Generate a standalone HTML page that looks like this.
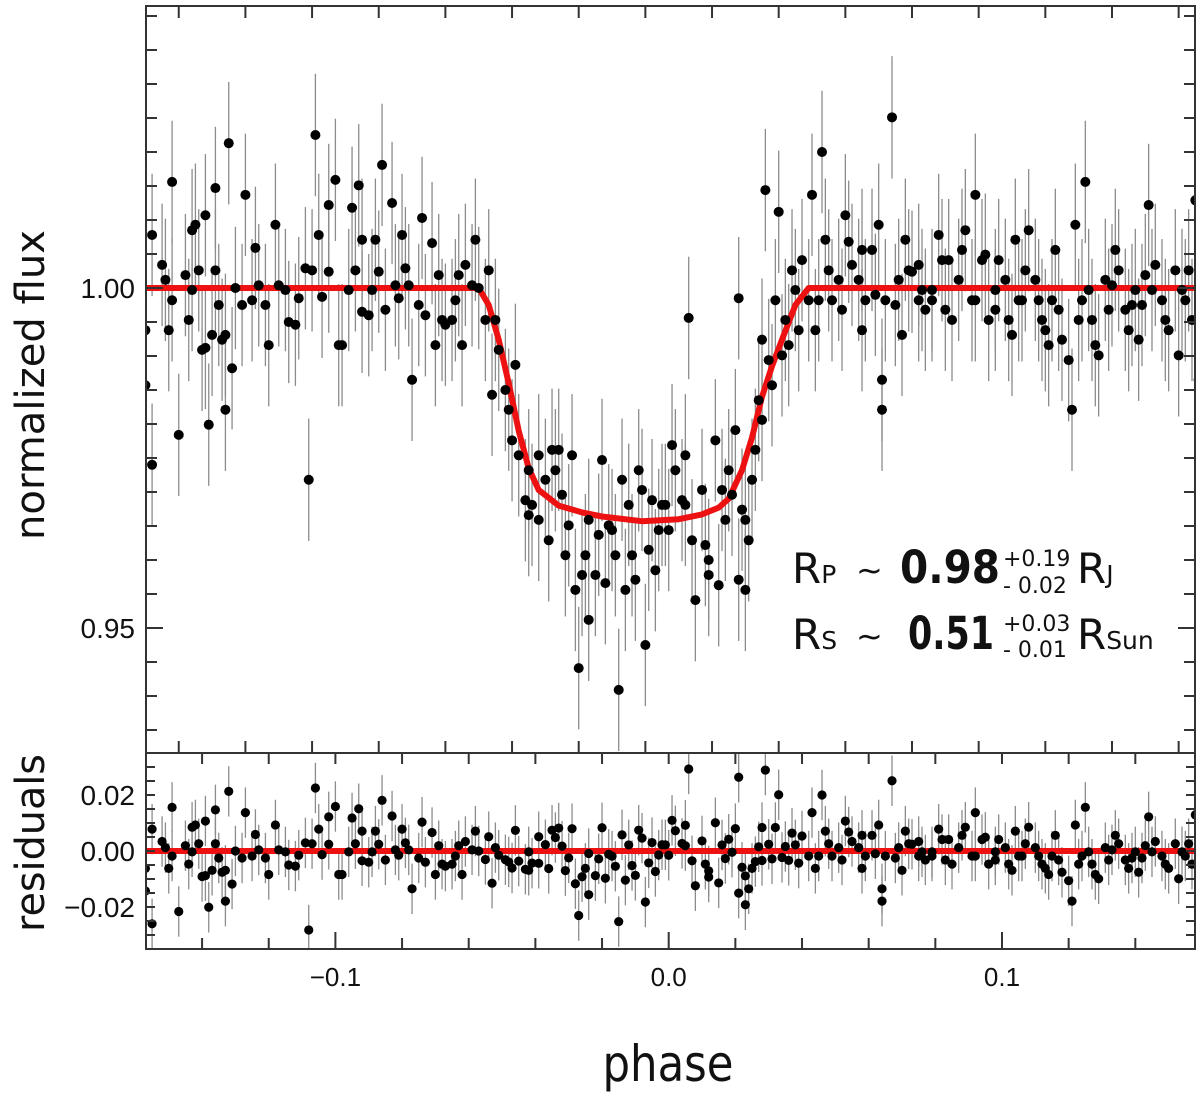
<!DOCTYPE html>
<html><head><meta charset="utf-8"><style>
html,body{margin:0;padding:0;background:#fff;}
svg{display:block;}
.tick{font-family:"Liberation Sans",sans-serif;fill:#111;}
.title{font-family:"DejaVu Sans",sans-serif;fill:#111;}
.ann{font-family:"DejaVu Sans",sans-serif;fill:#111;}
</style></head><body>
<svg id="chart" width="1200" height="1096" viewBox="0 0 1200 1096" xmlns="http://www.w3.org/2000/svg">
<defs>
<clipPath id="clipMain"><rect x="146" y="6" width="1049" height="747"/></clipPath>
<clipPath id="clipRes"><rect x="146" y="754" width="1049" height="195"/></clipPath>
</defs>
<rect x="0" y="0" width="1200" height="1096" fill="#fff"/>
<g id="mainMarks" clip-path="url(#clipMain)"></g>
<g id="resMarks" clip-path="url(#clipRes)"></g>
<g id="axes"></g>

<text class="title" x="0" y="0" font-size="40" transform="translate(44,385) rotate(-90)" text-anchor="middle" textLength="310" lengthAdjust="spacingAndGlyphs">normalized flux</text>
<text class="title" x="0" y="0" font-size="40" transform="translate(44,843) rotate(-90)" text-anchor="middle" textLength="178" lengthAdjust="spacingAndGlyphs">residuals</text>
<text class="title" x="668" y="1081" font-size="50" text-anchor="middle" textLength="131" lengthAdjust="spacingAndGlyphs">phase</text>

<g>
<text class="ann" x="792" y="583" font-size="42">R<tspan font-size="25">P</tspan></text>
<text class="ann" x="856" y="581" font-size="32">~</text>
<text class="ann" x="900" y="583" font-size="45" font-weight="bold" textLength="100" lengthAdjust="spacingAndGlyphs">0.98</text>
<text class="ann" x="1003" y="566" font-size="22">+0.19</text>
<text class="ann" x="1003" y="593" font-size="22">- 0.02</text>
<text class="ann" x="1077" y="583" font-size="42">R<tspan font-size="25">J</tspan></text>
</g>
<g>
<text class="ann" x="792" y="649" font-size="42">R<tspan font-size="25">S</tspan></text>
<text class="ann" x="856" y="647" font-size="32">~</text>
<text class="ann" x="908" y="649" font-size="45" font-weight="bold" textLength="86" lengthAdjust="spacingAndGlyphs">0.51</text>
<text class="ann" x="1003" y="631" font-size="22">+0.03</text>
<text class="ann" x="1003" y="657" font-size="22">- 0.01</text>
<text class="ann" x="1077" y="649" font-size="42">R<tspan font-size="25">Sun</tspan></text>
</g>
</svg>
<script>
var phase = [-0.157,-0.157,-0.155,-0.155,-0.152,-0.151,-0.150,-0.149,-0.149,-0.147,-0.145,-0.144,-0.143,-0.143,-0.142,-0.141,-0.140,-0.139,-0.139,-0.138,-0.137,-0.136,-0.136,-0.135,-0.134,-0.133,-0.133,-0.132,-0.131,-0.130,-0.128,-0.127,-0.125,-0.124,-0.123,-0.121,-0.120,-0.118,-0.117,-0.115,-0.114,-0.112,-0.111,-0.109,-0.108,-0.107,-0.106,-0.105,-0.104,-0.102,-0.102,-0.100,-0.099,-0.098,-0.096,-0.095,-0.094,-0.093,-0.092,-0.092,-0.090,-0.089,-0.088,-0.087,-0.086,-0.085,-0.083,-0.082,-0.081,-0.080,-0.079,-0.078,-0.077,-0.075,-0.074,-0.073,-0.071,-0.070,-0.069,-0.068,-0.067,-0.065,-0.064,-0.063,-0.062,-0.061,-0.059,-0.058,-0.057,-0.055,-0.054,-0.053,-0.052,-0.051,-0.049,-0.048,-0.047,-0.046,-0.045,-0.043,-0.042,-0.042,-0.041,-0.039,-0.039,-0.037,-0.036,-0.035,-0.034,-0.033,-0.032,-0.031,-0.030,-0.029,-0.028,-0.027,-0.026,-0.025,-0.024,-0.024,-0.022,-0.021,-0.020,-0.019,-0.018,-0.017,-0.016,-0.015,-0.014,-0.013,-0.012,-0.011,-0.010,-0.009,-0.008,-0.007,-0.006,-0.005,-0.004,-0.003,-0.002,-0.001,0.000,0.001,0.002,0.004,0.005,0.005,0.006,0.007,0.008,0.010,0.011,0.012,0.012,0.014,0.015,0.016,0.017,0.018,0.019,0.020,0.021,0.021,0.022,0.023,0.023,0.024,0.025,0.026,0.027,0.028,0.028,0.029,0.030,0.031,0.032,0.033,0.034,0.035,0.036,0.037,0.038,0.039,0.040,0.042,0.043,0.044,0.045,0.046,0.047,0.048,0.049,0.051,0.052,0.053,0.054,0.055,0.057,0.058,0.058,0.059,0.061,0.062,0.063,0.064,0.064,0.065,0.067,0.068,0.069,0.070,0.071,0.072,0.073,0.075,0.075,0.076,0.077,0.079,0.079,0.081,0.082,0.083,0.084,0.085,0.087,0.088,0.089,0.091,0.092,0.092,0.094,0.095,0.096,0.098,0.098,0.099,0.101,0.102,0.103,0.104,0.105,0.106,0.107,0.108,0.110,0.111,0.112,0.113,0.114,0.115,0.116,0.117,0.118,0.120,0.121,0.122,0.123,0.124,0.125,0.126,0.127,0.128,0.129,0.131,0.132,0.133,0.134,0.135,0.137,0.138,0.139,0.140,0.141,0.142,0.143,0.144,0.145,0.146,0.148,0.149,0.150,0.152,0.153,0.154,0.155,0.156,0.157,0.158,0.159];
var flux = [0.9938,0.9857,1.0078,0.9740,1.0034,1.0012,0.9938,1.0156,0.9982,0.9784,1.0019,0.9953,0.9997,1.0085,1.0093,1.0026,0.9909,1.0107,0.9912,0.9799,0.9931,1.0147,1.0026,0.9975,0.9924,0.9821,0.9931,1.0213,0.9882,1.0000,0.9975,1.0137,0.9982,1.0059,1.0004,0.9975,0.9916,1.0093,1.0004,0.9997,0.9950,0.9946,0.9985,1.0029,0.9718,1.0026,1.0225,1.0078,0.9987,1.0024,1.0122,1.0159,0.9916,0.9916,0.9997,1.0118,1.0026,1.0151,1.0071,0.9965,0.9960,0.9997,1.0071,1.0024,1.0181,0.9968,1.0125,1.0004,0.9985,1.0078,1.0029,1.0004,0.9865,0.9975,1.0103,0.9960,1.0066,0.9916,1.0019,0.9953,0.9946,0.9953,0.9982,1.0019,0.9916,1.0034,1.0004,1.0071,1.0000,0.9953,1.0026,0.9843,0.9953,0.9909,0.9850,0.9821,0.9776,0.9887,0.9754,0.9688,0.9666,0.9732,0.9681,0.9754,0.9659,0.9718,0.9629,0.9762,0.9732,0.9762,0.9696,0.9607,0.9651,0.9754,0.9556,0.9441,0.9578,0.9607,0.9512,0.9659,0.9578,0.9637,0.9747,0.9566,0.9651,0.9644,0.9607,0.9409,0.9718,0.9556,0.9681,0.9607,0.9571,0.9732,0.9703,0.9475,0.9615,0.9688,0.9585,0.9644,0.9681,0.9681,0.9644,0.9769,0.9732,0.9688,0.9681,0.9754,0.9956,0.9629,0.9541,0.9703,0.9622,0.9600,0.9578,0.9776,0.9563,0.9703,0.9659,0.9732,0.9696,0.9791,0.9571,0.9985,0.9674,0.9659,0.9556,0.9629,0.9718,0.9762,0.9835,0.9806,0.9924,1.0144,0.9894,0.9857,0.9982,1.0112,0.9901,0.9953,0.9916,1.0026,0.9997,0.9938,1.0041,0.9982,1.0137,0.9938,0.9982,1.0200,1.0071,1.0026,0.9982,1.0012,0.9968,1.0107,1.0068,1.0034,1.0012,1.0056,0.9938,0.9982,1.0056,0.9990,1.0093,0.9821,0.9865,0.9982,1.0251,0.9975,1.0012,0.9931,1.0071,1.0026,1.0024,0.9982,1.0034,0.9997,0.9968,0.9982,0.9997,1.0078,1.0041,0.9968,1.0041,0.9953,1.0012,1.0056,1.0085,0.9982,1.0137,0.9982,1.0041,1.0049,0.9953,0.9997,0.9968,1.0041,1.0012,0.9953,0.9931,1.0071,0.9982,0.9982,1.0026,1.0085,1.0012,0.9982,0.9953,0.9938,0.9916,0.9982,1.0056,0.9968,0.9924,0.9894,0.9821,1.0093,0.9953,0.9982,1.0156,0.9997,0.9953,0.9916,0.9901,1.0012,0.9968,1.0004,1.0056,1.0026,0.9968,0.9938,0.9975,0.9997,0.9924,0.9975,1.0019,1.0122,0.9997,1.0034,0.9982,0.9953,0.9938,1.0026,0.9901,0.9997,0.9982,1.0026,0.9953,1.0129,0.9865];
var fluxErr = 0.009;
var resErr = 0.009;
var modelPhase = [-0.17,-0.057,-0.054,-0.051,-0.048,-0.045,-0.042,-0.039,-0.033,-0.026,-0.020,-0.008,0.003,0.010,0.015,0.018,0.022,0.025,0.028,0.031,0.034,0.038,0.042,0.17];
var modelFlux = [1.0,1.0,0.9975,0.9924,0.9860,0.9790,0.9735,0.9703,0.9680,0.9670,0.9664,0.9657,0.9660,0.9667,0.9677,0.9690,0.9732,0.9780,0.9840,0.9885,0.9924,0.9975,1.0,1.0];
var xTickVals = [-0.1, 0.0, 0.1];
var xTickLabels = ["\u22120.1", "0.0", "0.1"];
var yTickVals = [1.00, 0.95];
var yTickLabels = ["1.00", "0.95"];
var rTickVals = [0.02, 0.00, -0.02];
var rTickLabels = ["0.02", "0.00", "\u22120.02"];

var NS = "http://www.w3.org/2000/svg";
var X0 = 146, X1 = 1195, MT = 6, MB = 753, RT = 754, RB = 949;
function px(p){ return 668.7 + p * 3333; }
function py(f){ return 288 - (f - 1) * 6800; }
function ry(r){ return 851 - r * 2800; }
function modelAt(p){
  for (var i = 0; i < modelPhase.length - 1; i++) {
    if (p >= modelPhase[i] && p <= modelPhase[i+1]) {
      var t = (p - modelPhase[i]) / (modelPhase[i+1] - modelPhase[i]);
      return modelFlux[i] + t * (modelFlux[i+1] - modelFlux[i]);
    }
  }
  return 1.0;
}
function mk(tag, attrs, parent){
  var e = document.createElementNS(NS, tag);
  for (var k in attrs) e.setAttribute(k, attrs[k]);
  parent.appendChild(e);
  return e;
}
var gMain = document.getElementById("mainMarks");
var gRes = document.getElementById("resMarks");
var gAx = document.getElementById("axes");
var n = Math.min(phase.length, flux.length);

for (var i = 0; i < n; i++) {
  var eb = mk("line", {x1: px(phase[i]), x2: px(phase[i]), y1: py(flux[i] - fluxErr), y2: py(flux[i] + fluxErr), stroke: "#8c8c8c", "stroke-width": 1.3}, gMain);
  
  
}
var d = "";
for (var j = 0; j < modelPhase.length; j++) d += (j ? "L" : "M") + px(modelPhase[j]).toFixed(1) + " " + py(modelFlux[j]).toFixed(1);
var ml = mk("path", {d: d, fill: "none", stroke: "#ee1111", "stroke-width": 6, "stroke-linejoin": "round"}, gMain);


for (var i = 0; i < n; i++) {
  var c = mk("circle", {cx: px(phase[i]), cy: py(flux[i]), r: 5, fill: "#000"}, gMain);
  
  
}
var resid = [];
for (var i = 0; i < n; i++) resid.push(flux[i] - modelAt(phase[i]));
for (var i = 0; i < n; i++) {
  var eb2 = mk("line", {x1: px(phase[i]), x2: px(phase[i]), y1: ry(resid[i] - resErr), y2: ry(resid[i] + resErr), stroke: "#8c8c8c", "stroke-width": 1.3}, gRes);
  
  
}
var zl = mk("line", {x1: X0, x2: X1, y1: ry(0), y2: ry(0), stroke: "#ee1111", "stroke-width": 6}, gRes);


for (var i = 0; i < n; i++) {
  var c2 = mk("circle", {cx: px(phase[i]), cy: ry(resid[i]), r: 4.6, fill: "#000"}, gRes);
  
  
}

var f1 = mk("rect", {x: X0, y: MT, width: X1 - X0, height: MB - MT, fill: "none", stroke: "#333", "stroke-width": 2}, gAx);


var f2 = mk("rect", {x: X0, y: MB, width: X1 - X0, height: RB - MB, fill: "none", stroke: "#333", "stroke-width": 2}, gAx);


function tick(x1, y1, x2, y2){
  var t = mk("line", {x1: x1, y1: y1, x2: x2, y2: y2, stroke: "#333", "stroke-width": 2}, gAx);
  
  
}
for (var k = 0; k < 16; k++) {
  var v = -0.147 + 0.02 * k, x = px(v);
  if (x > X0 + 2 && x < X1 - 2) { tick(x, MT, x, MT + 12); tick(x, MB, x, MB - 12); }
}
for (var k = -8; k <= 8; k++) {
  var v = 0.02 * k, x = px(v);
  if (x > X0 + 2 && x < X1 - 2) {
    var big = Math.abs(v * 10 - Math.round(v * 10)) < 1e-6;
    tick(x, MB, x, MB + 11);
    tick(x, RB, x, RB - (big ? 17 : 11));
  }
}
for (var k = -14; k <= 8; k++) {
  var v = 1 + 0.005 * k, y = py(v);
  if (y > MT + 2 && y < MB - 2) {
    var big = Math.abs(v * 20 - Math.round(v * 20)) < 1e-6;
    var L = big ? 17 : 11;
    tick(X0, y, X0 + L, y); tick(X1, y, X1 - L, y);
  }
}
for (var k = -8; k <= 8; k++) {
  var v = 0.005 * k, y = ry(v);
  if (y > RT + 2 && y < RB - 2) {
    tick(X0, y, X0 + 9, y); tick(X1, y, X1 - 9, y);
  }
}
for (var i = 0; i < xTickVals.length; i++) {
  var t = mk("text", {x: px(xTickVals[i]), y: 986, "text-anchor": "middle", "class": "tick", "font-size": 26}, gAx);
  t.textContent = xTickLabels[i];
  
  
}
for (var i = 0; i < yTickVals.length; i++) {
  var t = mk("text", {x: 135, y: py(yTickVals[i]) + 10, "text-anchor": "end", "class": "tick", "font-size": 28}, gAx);
  t.textContent = yTickLabels[i];
  
  
}
for (var i = 0; i < rTickVals.length; i++) {
  var t = mk("text", {x: 135, y: ry(rTickVals[i]) + 10, "text-anchor": "end", "class": "tick", "font-size": 28}, gAx);
  t.textContent = rTickLabels[i];
  
  
}
</script>
</body></html>
